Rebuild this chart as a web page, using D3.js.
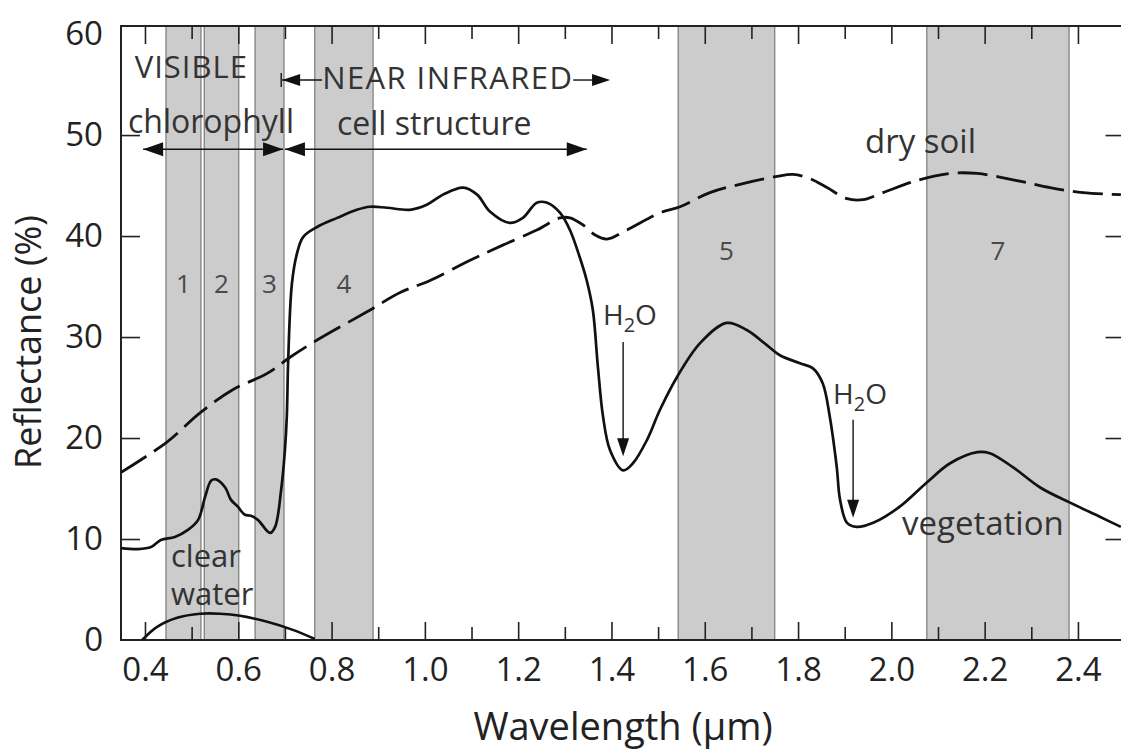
<!DOCTYPE html>
<html>
<head>
<meta charset="utf-8">
<script src="https://cdn.jsdelivr.net/npm/d3@7"></script>
<style>
  html, body { margin: 0; padding: 0; background: #fff; }
  svg { display: block; font-family: "Open Sans", "Noto Sans", sans-serif; }
</style>
</head>
<body>
<svg id="chart" width="1121" height="751"></svg>
<script>
// Spectral reflectance curves (wavelength in µm, reflectance in %)
const vegWavelength = [0.349,0.385,0.413,0.434,0.464,0.492,0.514,0.529,0.542,0.552,0.572,0.584,0.599,0.614,0.627,0.642,0.668,0.679,0.692,0.700,0.704,0.707,0.715,0.726,0.739,0.769,0.812,0.854,0.882,0.919,0.968,1.004,1.039,1.082,1.112,1.140,1.182,1.210,1.240,1.262,1.290,1.311,1.332,1.347,1.360,1.371,1.382,1.397,1.425,1.446,1.476,1.504,1.540,1.590,1.647,1.690,1.733,1.761,1.804,1.832,1.853,1.868,1.883,1.890,1.905,1.926,1.961,2.018,2.076,2.126,2.184,2.211,2.261,2.319,2.383,2.447,2.492];
const vegReflectance = [9.1,9.0,9.2,9.9,10.2,10.9,11.9,14.2,15.8,15.9,15.1,13.9,13.2,12.4,12.3,11.9,10.6,11.2,14.9,18.8,22.1,27.7,35.3,38.3,39.9,40.9,41.8,42.6,42.9,42.8,42.6,43.1,44.1,44.8,44.1,42.4,41.3,41.8,43.3,43.3,42.3,40.6,37.9,35.6,32.7,27.0,22.1,18.8,16.8,17.5,19.8,22.8,26.0,29.4,31.4,30.7,29.2,28.2,27.4,26.9,25.4,22.1,17.1,13.9,11.6,11.2,11.6,13.2,15.6,17.5,18.6,18.5,17.1,15.1,13.6,12.2,11.2];

const soilWavelength = [0.349,0.447,0.518,0.589,0.662,0.711,0.769,0.876,0.947,1.011,1.097,1.167,1.240,1.290,1.311,1.339,1.365,1.390,1.433,1.504,1.547,1.611,1.682,1.755,1.789,1.825,1.862,1.905,1.939,1.982,2.055,2.126,2.184,2.269,2.340,2.411,2.492];
const soilReflectance = [16.6,19.6,22.5,24.8,26.4,28.0,29.7,32.5,34.4,35.6,37.6,39.1,40.6,41.8,41.8,41.1,40.1,39.7,40.6,42.3,42.9,44.3,45.2,45.9,46.1,45.7,44.8,43.7,43.6,44.3,45.5,46.2,46.2,45.5,44.8,44.3,44.1];

const waterWavelength = [0.394,0.426,0.469,0.518,0.561,0.604,0.662,0.717,0.764];
const waterReflectance = [0.0,1.3,2.2,2.6,2.6,2.4,1.8,1.0,0.1];

// Sensor bands (µm)
const bandNames = ["1","2","3","4","5","7"];
const bandStart = [0.445,0.527,0.636,0.764,1.543,2.076];
const bandEnd   = [0.520,0.601,0.698,0.889,1.750,2.381];
const bandLabelLevel = [34.4,34.4,34.4,34.4,37.6,37.6];

// Axis ticks
const wavelengthMajor = [0.4,0.6,0.8,1.0,1.2,1.4,1.6,1.8,2.0,2.2,2.4];
const wavelengthMinor = [0.5,0.7,0.9,1.1,1.3,1.5,1.7,1.9,2.1,2.3];
const reflectanceTicks = [0,10,20,30,40,50,60];

(function draw() {
  const svg = d3.select("#chart");
  const pLeft = 121, pRight = 1122.5, pTop = 26, pBottom = 640;

  const x = d3.scaleLinear().domain([0.3486, 2.4955]).range([pLeft, pRight]);
  const y = d3.scaleLinear().domain([0, 60.8]).range([pBottom, pTop]);

  // Bands
  const bands = bandNames.map((n, i) => ({ name: n, a: bandStart[i], b: bandEnd[i], lv: bandLabelLevel[i] }));
  svg.append("g").selectAll("rect").data(bands).join("rect")
    .attr("x", d => x(d.a)).attr("width", d => x(d.b) - x(d.a))
    .attr("y", pTop).attr("height", pBottom - pTop)
    .attr("fill", "#cccccc").attr("stroke", "#7a7a7a").attr("stroke-width", 1.2);

  svg.append("g").selectAll("text").data(bands).join("text")
    .attr("x", d => x((d.a + d.b) / 2)).attr("y", d => y(d.lv))
    .attr("text-anchor", "middle").attr("font-size", 26).attr("fill", "#4a4a4a")
    .text(d => d.name);

  // Axes with inward ticks
  function styleAxis(g) {
    g.select(".domain").remove();
    g.selectAll(".tick line").attr("stroke", "#222").attr("stroke-width", 1.6);
    g.selectAll(".tick text").attr("fill", "#222").attr("font-size", 33)
      .attr("font-family", '"Open Sans", "Noto Sans", sans-serif');
  }

  svg.append("g").attr("transform", `translate(0,${pBottom})`)
    .call(d3.axisBottom(x).tickValues(wavelengthMajor).tickFormat(d3.format(".1f"))
      .tickSizeInner(-18).tickSizeOuter(0).tickPadding(18))
    .call(styleAxis);
  svg.append("g").attr("transform", `translate(0,${pBottom})`)
    .call(d3.axisBottom(x).tickValues(wavelengthMinor).tickFormat("").tickSizeInner(-13).tickSizeOuter(0))
    .call(styleAxis);
  svg.append("g").attr("transform", `translate(0,${pTop})`)
    .call(d3.axisTop(x).tickValues(wavelengthMajor).tickFormat("").tickSizeInner(-18).tickSizeOuter(0))
    .call(styleAxis);
  svg.append("g").attr("transform", `translate(0,${pTop})`)
    .call(d3.axisTop(x).tickValues(wavelengthMinor).tickFormat("").tickSizeInner(-13).tickSizeOuter(0))
    .call(styleAxis);
  svg.append("g").attr("transform", `translate(${pLeft},0)`)
    .call(d3.axisLeft(y).tickValues(reflectanceTicks).tickFormat(d3.format("d"))
      .tickSizeInner(-19).tickSizeOuter(0).tickPadding(18))
    .call(styleAxis)
    .call(g => g.selectAll(".tick").filter(d => d === 0 || d === 60).select("line").remove());
  svg.append("g").attr("transform", `translate(${pRight},0)`)
    .call(d3.axisRight(y).tickValues(reflectanceTicks.filter(d => d > 0 && d < 60)).tickFormat("")
      .tickSizeInner(-17).tickSizeOuter(0))
    .call(styleAxis);

  // Frame
  svg.append("path")
    .attr("d", `M${pLeft},${pBottom}V${pTop}H${pRight}V${pBottom}Z`)
    .attr("fill", "none").attr("stroke", "#222").attr("stroke-width", 2);

  // Curves
  svg.append("clipPath").attr("id", "plot").append("rect")
    .attr("x", pLeft).attr("y", pTop).attr("width", pRight - pLeft).attr("height", pBottom - pTop);

  const line = d3.line().x(d => x(d[0])).y(d => y(d[1])).curve(d3.curveCatmullRom.alpha(0.5));
  const curves = svg.append("g").attr("clip-path", "url(#plot)");
  curves.append("path").datum(d3.zip(soilWavelength, soilReflectance))
    .attr("d", line).attr("fill", "none").attr("stroke", "#111").attr("stroke-width", 2.8)
    .attr("stroke-dasharray", "30,9");
  curves.append("path").datum(d3.zip(vegWavelength, vegReflectance))
    .attr("d", line).attr("fill", "none").attr("stroke", "#111").attr("stroke-width", 2.7);
  curves.append("path").datum(d3.zip(waterWavelength, waterReflectance))
    .attr("d", line).attr("fill", "none").attr("stroke", "#111").attr("stroke-width", 2.6);

  // Annotations
  const ann = svg.append("g");
  function head(xTip, yTip, dir, len, half) {
    let p;
    if (dir === "left") p = [[xTip, yTip], [xTip + len, yTip - half], [xTip + len, yTip + half]];
    else if (dir === "right") p = [[xTip, yTip], [xTip - len, yTip - half], [xTip - len, yTip + half]];
    else p = [[xTip, yTip], [xTip - half, yTip - len], [xTip + half, yTip - len]];
    ann.append("path").attr("d", "M" + p.join("L") + "Z").attr("fill", "#111");
  }
  function hline(w0, w1, v, sw) {
    ann.append("line").attr("x1", x(w0)).attr("x2", x(w1)).attr("y1", y(v)).attr("y2", y(v))
      .attr("stroke", "#111").attr("stroke-width", sw || 1.4);
  }
  function label(str, w, v, size, anchor) {
    return ann.append("text").attr("x", x(w)).attr("y", y(v)).attr("font-size", size)
      .attr("fill", "#333").attr("text-anchor", anchor || "start").text(str);
  }

  // VISIBLE / NEAR INFRARED
  label("VISIBLE", 0.378, 55.7, 31).attr("letter-spacing", 1);
  const nirLevel = 55.45;
  ann.append("line").attr("x1", x(0.692)).attr("x2", x(0.692))
    .attr("y1", y(nirLevel) - 7).attr("y2", y(nirLevel) + 7).attr("stroke", "#111").attr("stroke-width", 1.4);
  hline(0.694, 0.7795, nirLevel);
  head(x(0.694), y(nirLevel), "left", 18, 6);
  label("NEAR INFRARED", 0.780, 54.55, 31).attr("letter-spacing", 1.4);
  hline(1.318, 1.38, nirLevel);
  head(x(1.397), y(nirLevel), "right", 18, 6);

  // chlorophyll / cell structure ranges
  label("chlorophyll", 0.3636, 50.2, 32);
  label("cell structure", 0.8116, 50.0, 32);
  const rangeLevel = 48.6;
  hline(0.396, 0.696, rangeLevel);
  head(x(0.396), y(rangeLevel), "left", 20, 7);
  head(x(0.696), y(rangeLevel), "right", 20, 7);
  hline(0.700, 1.347, rangeLevel);
  head(x(0.700), y(rangeLevel), "left", 20, 7);
  head(x(1.347), y(rangeLevel), "right", 20, 7);

  // Curve labels
  label("dry soil", 1.9435, 48.2, 33);
  label("vegetation", 2.0228, 10.4, 33);
  label("clear", 0.4558, 7.23, 31);
  label("water", 0.4558, 3.47, 31);

  // Water absorption markers
  function water(wText, vText, wArrow, vFrom, vTip) {
    const t = label("", wText, vText, 28);
    t.append("tspan").text("H");
    t.append("tspan").attr("font-size", 20).attr("dy", 7).text("2");
    t.append("tspan").attr("dy", -7).text("O");
    ann.append("line").attr("x1", x(wArrow)).attr("x2", x(wArrow))
      .attr("y1", y(vFrom)).attr("y2", y(vTip) - 16).attr("stroke", "#111").attr("stroke-width", 1.4);
    head(x(wArrow), y(vTip), "down", 18, 6);
  }
  water(1.3818, 31.2, 1.425, 29.5, 18.2);
  water(1.875, 23.4, 1.918, 21.8, 12.1);

  // Axis titles
  svg.append("text").attr("x", 623).attr("y", 740).attr("text-anchor", "middle")
    .attr("font-size", 38).attr("fill", "#222").text("Wavelength (µm)");
  svg.append("text").attr("transform", "translate(41,342) rotate(-90)").attr("text-anchor", "middle")
    .attr("font-size", 36).attr("fill", "#222").text("Reflectance (%)");
})();
</script>
</body>
</html>
